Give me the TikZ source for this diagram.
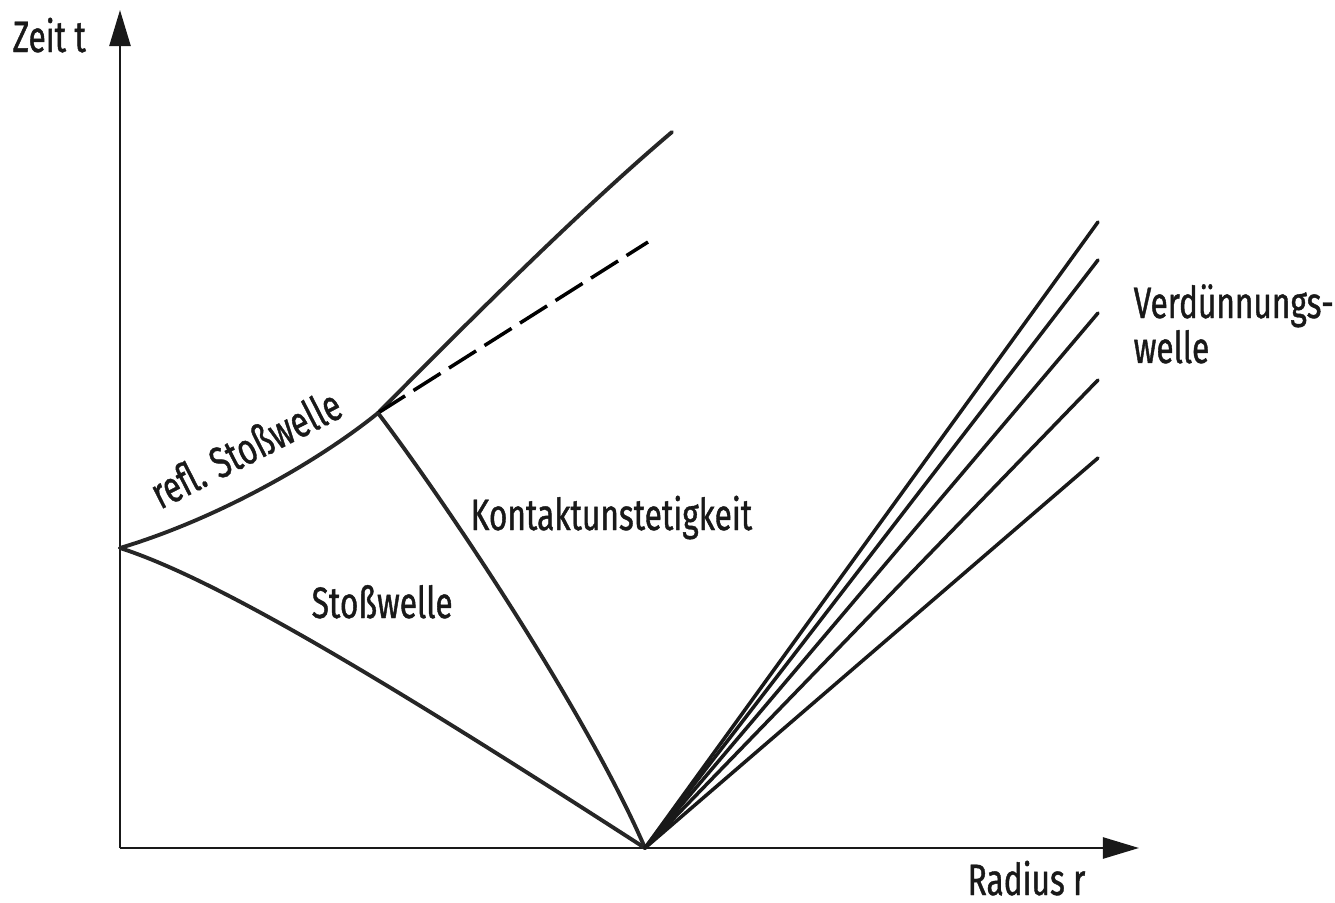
\documentclass[tikz,border=0pt]{standalone}
\usepackage{fontspec}
\setmainfont{Fira Sans}[FakeStretch=0.72,FakeBold=0.9]
\usetikzlibrary{arrows.meta}
\begin{document}
\begin{tikzpicture}[x=0.01cm,y=-0.01cm,
  axisline/.style={line width=0.7pt,black!90},
  axishead/.style={-{Triangle[length=3.6mm,width=2.1mm]}},
  wave/.style={line width=1.1pt,black!85,line cap=round},
  fanline/.style={line width=1pt,black!90,line cap=round},
  dashline/.style={line width=1pt,black,dash pattern=on 0.32cm off 0.1cm},
  lbl/.style={font=\fontsize{12.5}{15}\selectfont,text=black!90,inner sep=0pt,anchor=base west}]
\useasboundingbox (0,0) rectangle (1335,903);
% coordinates
\coordinate (O) at (120,848);
\coordinate (T) at (120,10);
\coordinate (R) at (1139,848);
\coordinate (S0) at (120,548);
\coordinate (J) at (378,413);
\coordinate (P) at (645,848);
\coordinate (E1) at (672,132);
\coordinate (E2) at (648,242);
\coordinate (f1) at (1098,222);
\coordinate (f2) at (1098,260);
\coordinate (f3) at (1098,313);
\coordinate (f4) at (1098,380);
\coordinate (f5) at (1098,458);
% axes
\draw[axisline,axishead] (O) -- (T);
\draw[axisline,axishead] (O) -- (R);
% shock wave
\draw[wave] (S0) .. controls (220,580) and (400,690) .. (P);
% reflected shock
\draw[wave] (S0) .. controls (220,518) and (320,460) .. (J);
% transmitted shock
\draw[wave] (J) .. controls (470,320) and (580,210) .. (E1);
% dashed continuation
\draw[dashline] (J) -- (E2);
% contact discontinuity
\draw[wave] (J) .. controls (455,515) and (590,720) .. (P);
% rarefaction fan
\foreach \f in {f1,f2,f3,f4,f5} \draw[fanline] (P) -- (\f);
% labels
\node[lbl] (lz) at (12,52) {Zeit t};
\node[lbl] (lr) at (967,895) {Radius r};
\node[lbl] (ls) at (311,618) {Stoßwelle};
\node[lbl] (lk) at (470,530) {Kontaktunstetigkeit};
\node[lbl,rotate=27] (lrs) at (160,510) {refl. Stoßwelle};
\node[lbl] (lv1) at (1133,318) {Verdünnungs-};
\node[lbl] (lv2) at (1133,363) {welle};
\end{tikzpicture}
\end{document}
